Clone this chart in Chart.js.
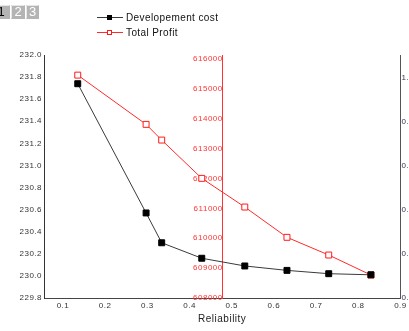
<!DOCTYPE html>
<html>
<head>
<meta charset="utf-8">
<script src="https://cdn.jsdelivr.net/npm/chart.js@4"></script>
<style>
  html, body { margin: 0; padding: 0; background: #fff; overflow: hidden; }
  canvas { display: block; }
</style>
</head>
<body>
<canvas id="c" width="409" height="331"></canvas>
<script>
// Reliability levels shared by both series
const reliability = [0.135, 0.297, 0.334, 0.429, 0.531, 0.631, 0.730, 0.830];
// Development cost (left axis)
const developmentCost = [231.74, 230.57, 230.30, 230.16, 230.09, 230.05, 230.02, 230.01];
// Total profit (red axis)
const totalProfit = [615457, 613809, 613284, 612003, 611043, 610030, 609438, 608769];
const profitTicks = [608000, 609000, 610000, 611000, 612000, 613000, 614000, 615000, 616000];
const seriesNames = ['Developement cost', 'Total Profit'];
const layerTabs = ['1', '2', '3'];

const FONT = "'Liberation Sans', Arial, sans-serif";

const toPoints = (ys) => reliability.map((x, i) => ({ x, y: ys[i] }));

// slightly open letter spacing for all axis text
const spacing = {
  id: 'spacing',
  beforeDraw(chart) { chart.ctx.letterSpacing = '0.5px'; }
};

// Origin-style layer tabs and the legend in the top margin
const decorations = {
  id: 'decorations',
  afterDraw(chart) {
    const ctx = chart.ctx;
    ctx.save();
    ctx.letterSpacing = '0px';
    // layer tabs
    const tabs = [[-12, 10], [11, 25], [26, 39]];
    tabs.forEach(([x0, x1], i) => {
      ctx.fillStyle = '#b4b4b4';
      ctx.fillRect(x0, 5, x1 - x0, 14);
      ctx.strokeStyle = '#e6e6e6';
      ctx.beginPath();
      ctx.moveTo(x0 + 0.5, 18.5); ctx.lineTo(x0 + 0.5, 5.5); ctx.lineTo(x1 - 0.5, 5.5);
      ctx.stroke();
      ctx.fillStyle = i === 0 ? '#000' : '#fff';
      ctx.font = '13px ' + FONT;
      ctx.textAlign = 'center';
      ctx.textBaseline = 'middle';
      ctx.fillText(layerTabs[i], i === 0 ? 1 : (x0 + x1) / 2, 12.5);
    });
    // legend
    chart.data.datasets.forEach((ds, i) => {
      const y = 17 + i * 15;
      ctx.strokeStyle = ds.borderColor;
      ctx.lineWidth = 1;
      ctx.beginPath();
      ctx.moveTo(97, y + 0.5); ctx.lineTo(123, y + 0.5);
      ctx.stroke();
      if (i === 0) {
        ctx.fillStyle = '#000';
        ctx.fillRect(107, y - 2, 5, 5);
      } else {
        ctx.fillStyle = '#fff';
        ctx.fillRect(107, y - 2, 5, 5);
        ctx.strokeStyle = ds.pointBorderColor;
        ctx.strokeRect(107.5, y - 1.5, 4, 4);
      }
      ctx.fillStyle = '#111';
      ctx.font = '10px ' + FONT;
      ctx.letterSpacing = '0.4px';
      ctx.textAlign = 'left';
      ctx.textBaseline = 'middle';
      ctx.fillText(ds.label, 126, y + 1);
    });
    ctx.restore();
  }
};

const tickFont = { family: FONT, size: 8 };

new Chart(document.getElementById('c'), {
  type: 'line',
  data: {
    datasets: [
      {
        label: seriesNames[0],
        data: toPoints(developmentCost),
        yAxisID: 'y',
        borderColor: '#3a3a3a',
        borderWidth: 1,
        pointStyle: 'rect',
        pointRadius: 4.2,
        pointBackgroundColor: '#000',
        pointBorderColor: '#000',
        pointBorderWidth: 1,
        tension: 0
      },
      {
        label: seriesNames[1],
        data: toPoints(totalProfit),
        yAxisID: 'yProfit',
        borderColor: '#ff2a2a',
        borderWidth: 1,
        pointStyle: 'rect',
        pointRadius: 4.2,
        pointBackgroundColor: '#fff',
        pointBorderColor: '#ff1a1a',
        pointBorderWidth: 1,
        tension: 0
      }
    ]
  },
  options: {
    responsive: false,
    animation: false,
    devicePixelRatio: 1,
    layout: { padding: { top: 55, left: 0, right: 0, bottom: 0 } },
    plugins: { legend: { display: false }, tooltip: { enabled: false } },
    scales: {
      x: {
        type: 'linear',
        position: 'bottom',
        min: 0.055,
        max: 0.9,
        grid: { display: false, drawTicks: false },
        border: { display: true, color: '#444', width: 1 },
        ticks: {
          stepSize: 0.1,
          includeBounds: false,
          autoSkip: false,
          maxRotation: 0,
          padding: 3,
          color: '#333',
          font: tickFont,
          callback: (v) => v.toFixed(1)
        },
        title: {
          display: true,
          text: 'Reliability',
          color: '#222',
          font: { family: FONT, size: 10 },
          padding: { top: 0, bottom: 6 }
        },
        afterFit: (s) => { s.height = 33; }
      },
      y: {
        position: 'left',
        min: 229.8,
        max: 232.0,
        grid: { display: false, drawTicks: false },
        border: { display: true, color: '#333', width: 1 },
        ticks: {
          stepSize: 0.2,
          includeBounds: false,
          padding: 2,
          color: '#333',
          font: tickFont,
          callback: (v) => v.toFixed(1)
        },
        afterFit: (s) => { s.width = 44; }
      },
      yProfit: {
        position: { x: 0.4787 },
        min: 608000,
        max: 616130,
        grid: { display: false, drawTicks: false },
        border: { display: true, color: '#ff3333', width: 1 },
        afterBuildTicks: (s) => { s.ticks = profitTicks.map((value) => ({ value })); },
        ticks: {
          autoSkip: false,
          padding: 3,
          color: '#ff3333',
          font: tickFont,
          callback: (v) => String(v)
        }
      },
      yRight: {
        display: true,
        position: 'right',
        min: 0,
        max: 1.105,
        grid: { display: false, drawTicks: false },
        border: { display: true, color: '#555', width: 1 },
        ticks: {
          stepSize: 0.2,
          includeBounds: false,
          padding: 1,
          color: '#335',
          font: tickFont,
          callback: (v) => v.toFixed(1)
        },
        afterFit: (s) => { s.width = 8; }
      }
    }
  },
  plugins: [spacing, decorations]
});
</script>
</body>
</html>
